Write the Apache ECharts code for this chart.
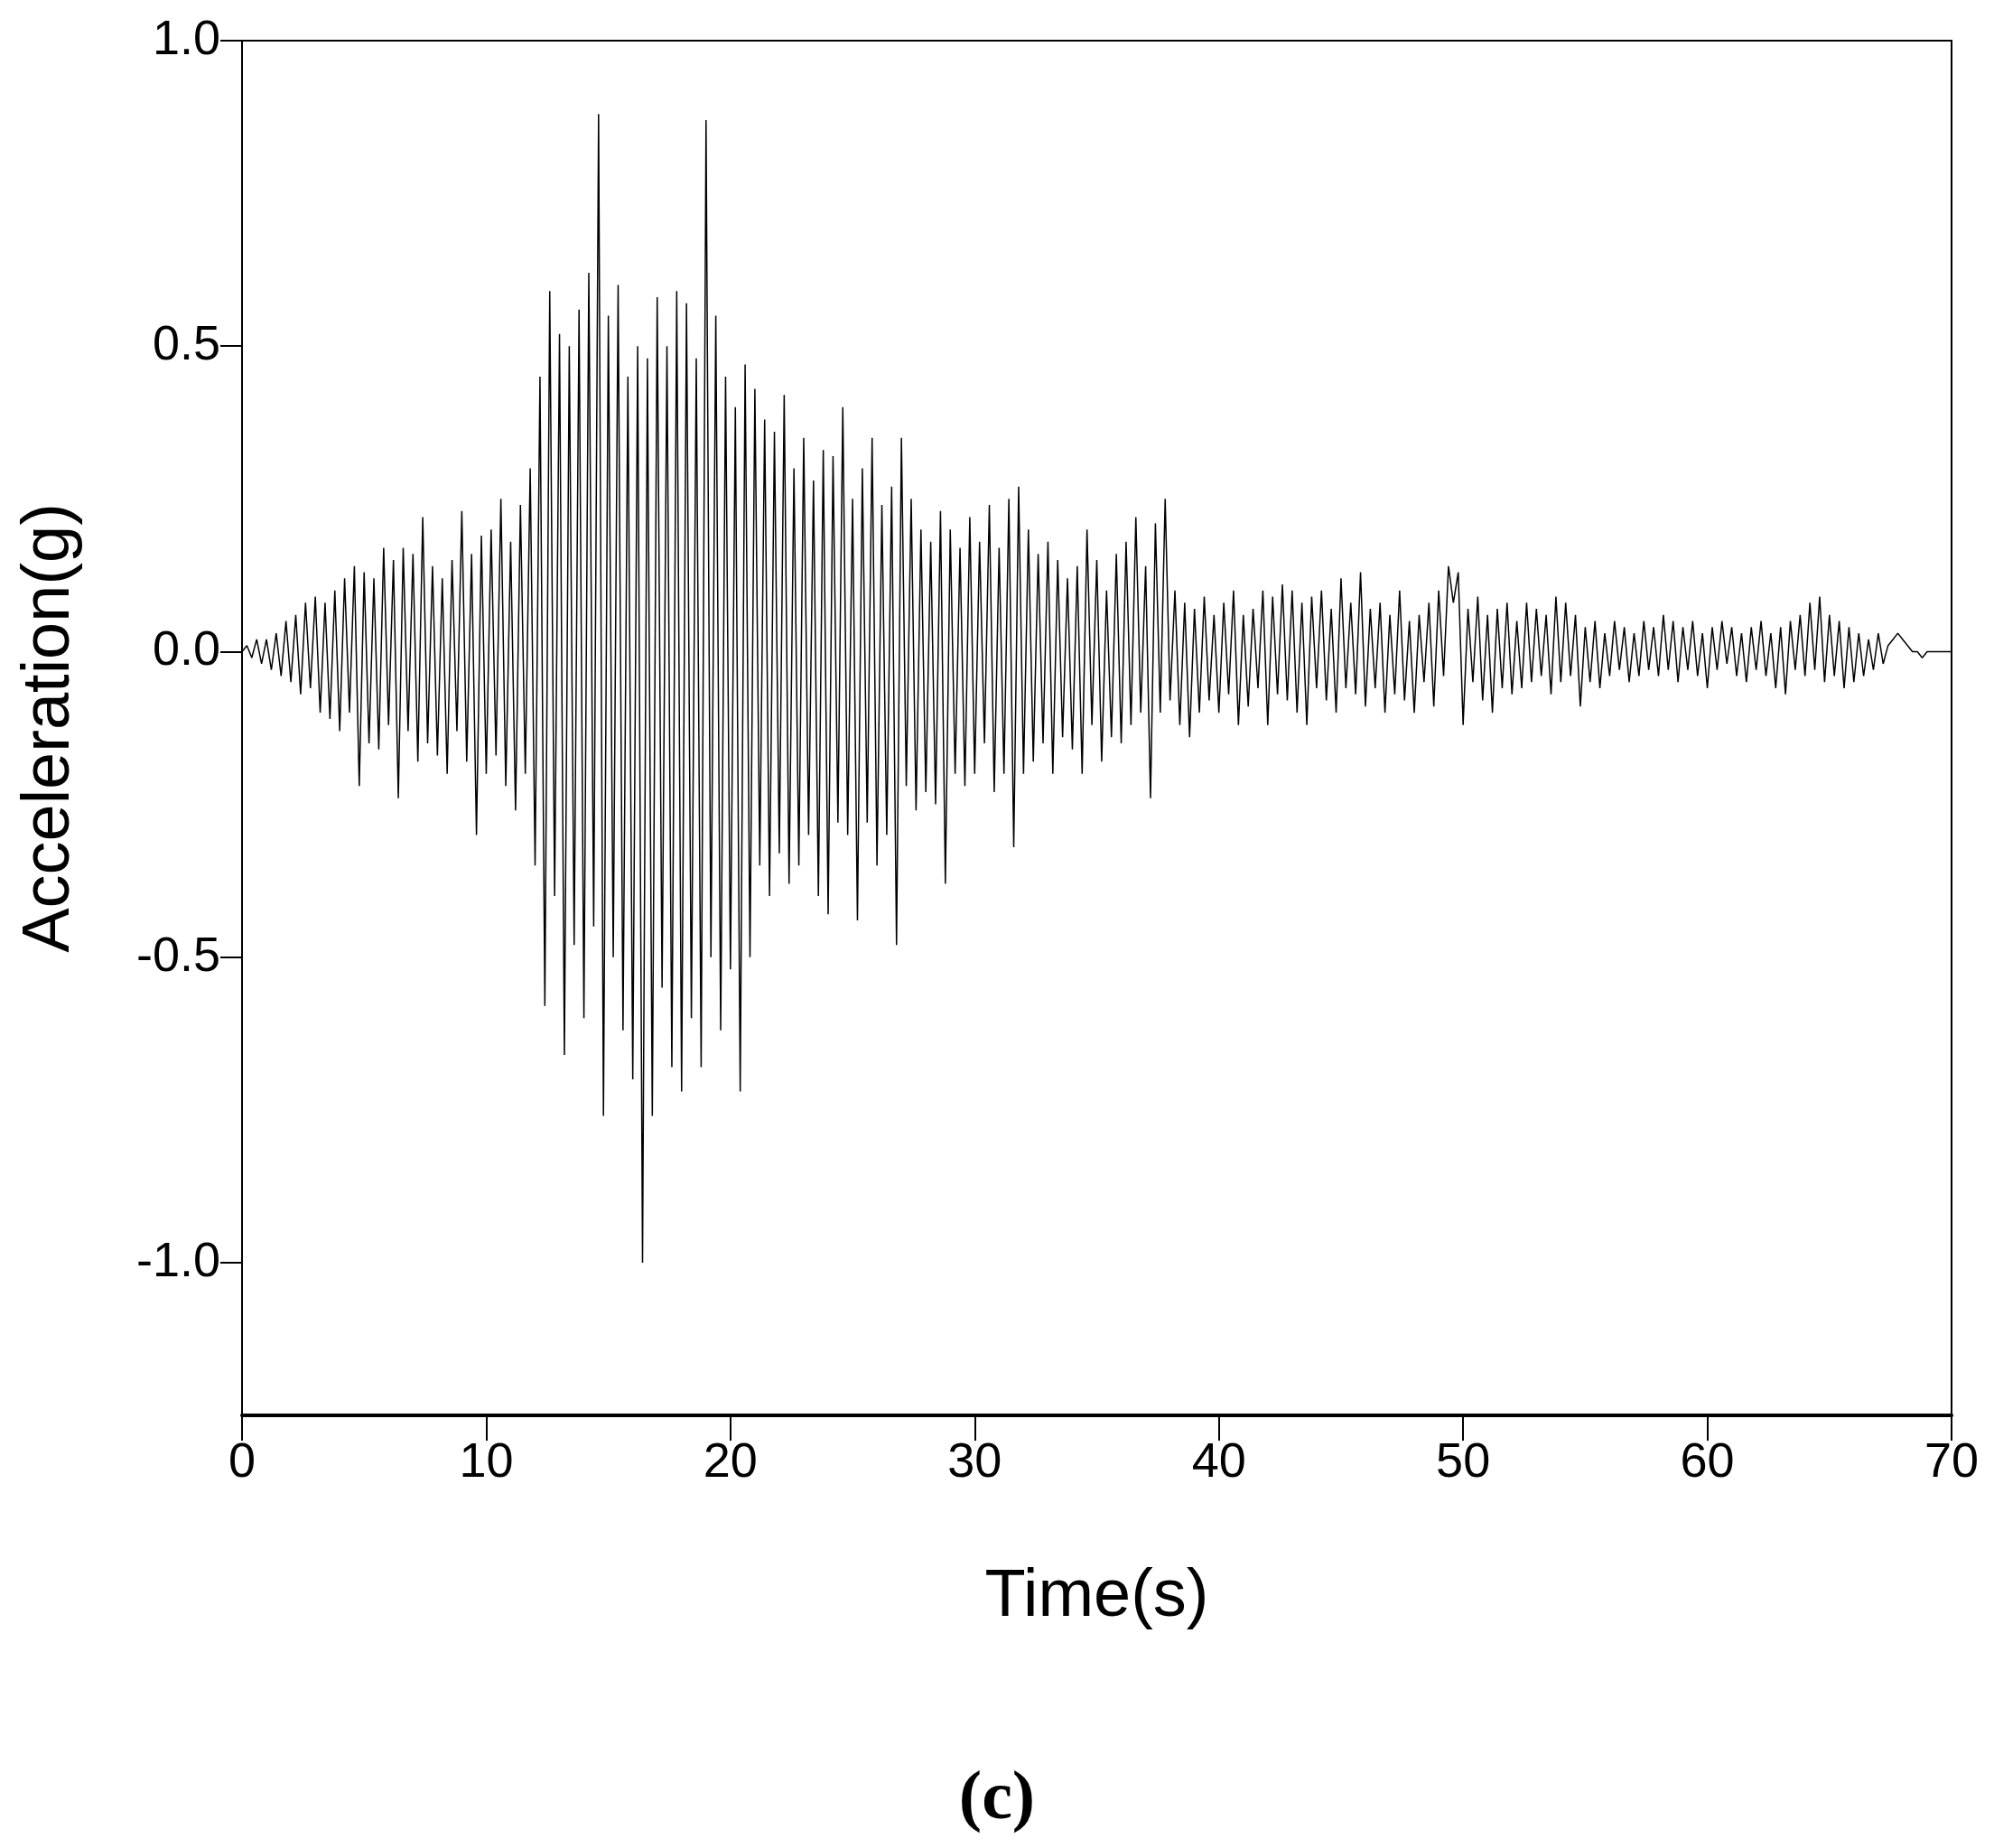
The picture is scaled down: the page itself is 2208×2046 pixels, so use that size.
<!DOCTYPE html>
<html>
<head>
<meta charset="utf-8">
<script src="https://cdn.jsdelivr.net/npm/echarts@6/dist/echarts.min.js"></script>
<style>html,body{margin:0;padding:0;background:#fff}#chart{width:2208px;height:2046px}</style>
</head>
<body>
<div id="chart"></div>
<script>
// sample step of the record (s)
const dt = 0.2;
const accel = [
  0, 0.01, -0.01, 0.02, -0.02, 0.02, -0.03, 0.03, -0.04, 0.05,
  -0.05, 0.06, -0.07, 0.08, -0.06, 0.09, -0.1, 0.08, -0.11, 0.1,
  -0.13, 0.12, -0.1, 0.14, -0.22, 0.13, -0.15, 0.12, -0.16, 0.17,
  -0.12, 0.15, -0.24, 0.17, -0.13, 0.16, -0.18, 0.22, -0.15, 0.14,
  -0.17, 0.12, -0.2, 0.15, -0.13, 0.23, -0.18, 0.16, -0.3, 0.19,
  -0.2, 0.2, -0.17, 0.25, -0.22, 0.18, -0.26, 0.24, -0.2, 0.3,
  -0.35, 0.45, -0.58, 0.59, -0.4, 0.52, -0.66, 0.5, -0.48, 0.56,
  -0.6, 0.62, -0.45, 0.88, -0.76, 0.55, -0.5, 0.6, -0.62, 0.45,
  -0.7, 0.5, -1.0, 0.48, -0.76, 0.58, -0.55, 0.5, -0.68, 0.59,
  -0.72, 0.57, -0.6, 0.48, -0.68, 0.87, -0.5, 0.55, -0.62, 0.45,
  -0.52, 0.4, -0.72, 0.47, -0.5, 0.43, -0.35, 0.38, -0.4, 0.36,
  -0.33, 0.42, -0.38, 0.3, -0.35, 0.35, -0.3, 0.28, -0.4, 0.33,
  -0.43, 0.32, -0.28, 0.4, -0.3, 0.25, -0.44, 0.3, -0.28, 0.35,
  -0.35, 0.24, -0.3, 0.27, -0.48, 0.35, -0.22, 0.25, -0.26, 0.2,
  -0.23, 0.18, -0.25, 0.23, -0.38, 0.2, -0.2, 0.17, -0.22, 0.22,
  -0.2, 0.18, -0.15, 0.24, -0.23, 0.17, -0.2, 0.25, -0.32, 0.27,
  -0.2, 0.2, -0.18, 0.16, -0.15, 0.18, -0.2, 0.15, -0.14, 0.12,
  -0.16, 0.14, -0.2, 0.2, -0.12, 0.15, -0.18, 0.1, -0.14, 0.16,
  -0.15, 0.18, -0.12, 0.22, -0.1, 0.14, -0.24, 0.21, -0.1, 0.25,
  -0.08, 0.1, -0.12, 0.08, -0.14, 0.07, -0.1, 0.09, -0.08, 0.06,
  -0.1, 0.08, -0.07, 0.1, -0.12, 0.06, -0.09, 0.07, -0.06, 0.1,
  -0.12, 0.09, -0.07, 0.11, -0.08, 0.1, -0.1, 0.08, -0.12, 0.09,
  -0.06, 0.1, -0.08, 0.07, -0.1, 0.12, -0.06, 0.08, -0.07, 0.13,
  -0.09, 0.07, -0.06, 0.08, -0.1, 0.06, -0.07, 0.1, -0.08, 0.05,
  -0.1, 0.06, -0.05, 0.08, -0.09, 0.1, -0.04, 0.14, 0.08, 0.13,
  -0.12, 0.07, -0.05, 0.09, -0.08, 0.06, -0.1, 0.07, -0.06, 0.08,
  -0.07, 0.05, -0.06, 0.08, -0.05, 0.07, -0.04, 0.06, -0.07, 0.09,
  -0.05, 0.08, -0.04, 0.06, -0.09, 0.04, -0.05, 0.05, -0.06, 0.03,
  -0.04, 0.05, -0.03, 0.04, -0.05, 0.03, -0.04, 0.05, -0.03, 0.04,
  -0.04, 0.06, -0.03, 0.05, -0.05, 0.04, -0.03, 0.05, -0.04, 0.03,
  -0.06, 0.04, -0.03, 0.05, -0.02, 0.04, -0.04, 0.03, -0.05, 0.04,
  -0.03, 0.05, -0.04, 0.03, -0.06, 0.04, -0.07, 0.05, -0.03, 0.06,
  -0.04, 0.08, -0.03, 0.09, -0.05, 0.06, -0.04, 0.05, -0.06, 0.04,
  -0.05, 0.03, -0.04, 0.02, -0.03, 0.03, -0.02, 0.01, 0.02, 0.03,
  0.02, 0.01, 0, 0, -0.01, 0, 0, 0, 0, 0,
  0
];
const yTicks = [-1.0, -0.5, 0.0, 0.5, 1.0];
const xTicks = [0, 10, 20, 30, 40, 50, 60, 70];

const points = accel.map((v, i) => [+(i * dt).toFixed(2), v]);
const font = 'Liberation Sans, Arial, sans-serif';

const chart = echarts.init(document.getElementById('chart'));
chart.setOption({
  animation: false,
  backgroundColor: '#fff',
  grid: { left: 268, right: 47, top: 45, bottom: 479, containLabel: false, outerBoundsMode: 'none' },
  xAxis: {
    type: 'value', min: 0, max: 70, interval: 10,
    name: 'Time(s)', nameLocation: 'middle', nameGap: 165,
    nameTextStyle: { fontFamily: font, fontSize: 74, color: '#000' },
    axisLine: { onZero: false, lineStyle: { color: '#000', width: 4 } },
    axisTick: { inside: false, length: 28, lineStyle: { color: '#000', width: 2 }, customValues: xTicks },
    axisLabel: { fontFamily: font, fontSize: 54, color: '#000', margin: 26, customValues: xTicks },
    splitLine: { show: false }
  },
  yAxis: {
    type: 'value', min: -1.25, max: 1.0,
    name: 'Acceleration(g)', nameLocation: 'middle', nameGap: 175,
    nameTextStyle: { fontFamily: font, fontSize: 74, color: '#000' },
    axisLine: { onZero: false, lineStyle: { color: '#000', width: 2 } },
    axisTick: { inside: false, length: 24, lineStyle: { color: '#000', width: 2 }, customValues: yTicks },
    axisLabel: { fontFamily: font, fontSize: 54, color: '#000', margin: 24, customValues: yTicks,
      formatter: v => v.toFixed(1) },
    splitLine: { show: false }
  },
  graphic: [
    { type: 'rect', shape: { x: 268, y: 45, width: 2208 - 268 - 47, height: 2046 - 45 - 479 },
      style: { fill: 'none', stroke: '#000', lineWidth: 2 }, silent: true },
    { type: 'text', left: 'center', top: 1955,
      style: { text: '(c)', font: 'bold 76px Liberation Serif, serif', fill: '#000' } }
  ],
  series: [{
    type: 'line', data: points, showSymbol: false, smooth: false,
    lineStyle: { color: '#000', width: 1.5 }
  }]
});
</script>
</body>
</html>
